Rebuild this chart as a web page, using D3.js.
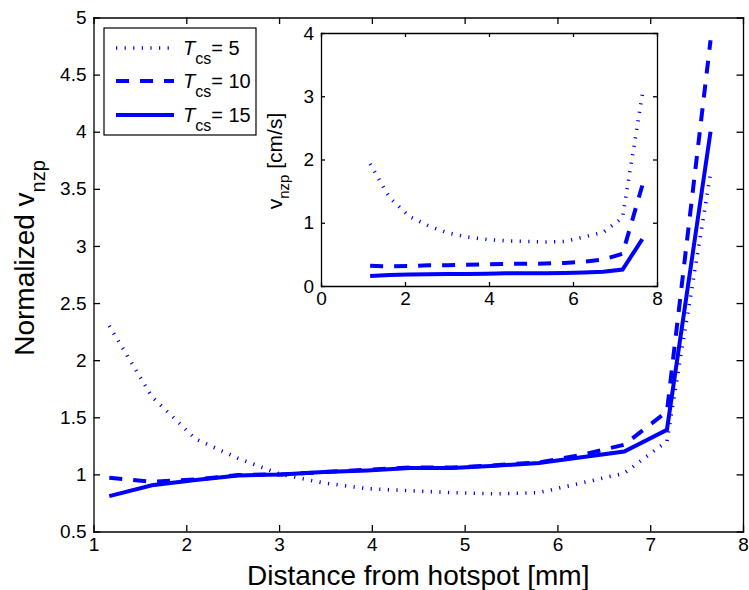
<!DOCTYPE html>
<meta charset="utf-8">
<title>Normalized v_nzp vs distance from hotspot</title>
<style>
  body {
    margin: 0;
    background: #fff;
  }

  svg {
    display: block;
    font-family: "Liberation Sans", Arial, sans-serif;
  }

  .axis path,
  .axis line {
    stroke: #000;
    stroke-width: 1.3;
  }

  .axis text {
    fill: #000;
  }

  .series {
    fill: none;
    stroke: #0000ff;
  }
</style>

<body>
  <script src="https://cdn.jsdelivr.net/npm/d3@7"></script>
  <script>
    // distance from hotspot [mm]
    var dist = [1.17, 1.63, 2.1, 2.56, 3.02, 3.48, 3.95, 4.41, 4.87, 5.33, 5.8, 6.26, 6.72, 7.18, 7.65];

    // normalized v_nzp (main plot)
    var norm5 = [2.30, 1.68, 1.31, 1.14, 1.0, 0.925, 0.875, 0.857, 0.84, 0.83, 0.84, 0.925, 1.01, 1.29, 3.63];
    var norm10 = [0.97, 0.935, 0.955, 0.995, 1.0, 1.02, 1.04, 1.06, 1.06, 1.08, 1.105, 1.17, 1.26, 1.55, 4.8];
    var norm15 = [0.81, 0.905, 0.95, 0.99, 1.0, 1.02, 1.035, 1.055, 1.055, 1.075, 1.10, 1.15, 1.20, 1.39, 4.0];

    // v_nzp [cm/s] (inset)
    var vel5 = [1.93, 1.40, 1.10, 0.95, 0.84, 0.775, 0.735, 0.715, 0.705, 0.695, 0.705, 0.775, 0.85, 1.08, 3.03];
    var vel10 = [0.32, 0.31, 0.315, 0.33, 0.33, 0.335, 0.345, 0.35, 0.35, 0.355, 0.365, 0.385, 0.42, 0.51, 1.59];
    var vel15 = [0.16, 0.175, 0.18, 0.185, 0.19, 0.19, 0.195, 0.2, 0.2, 0.2, 0.205, 0.215, 0.225, 0.26, 0.74];

    var tcsValues = ["5", "10", "15"];

    var mainXTicks = [1, 2, 3, 4, 5, 6, 7, 8];
    var mainYTicks = [0.5, 1, 1.5, 2, 2.5, 3, 3.5, 4, 4.5, 5];
    var insetXTicks = [0, 2, 4, 6, 8];
    var insetYTicks = [0, 1, 2, 3, 4];

    var width = 749,
      height = 590;

    // line styles, in the order of tcsValues
    var styles = [
      { width: 3.6, dash: "1.2,7.4" },
      { width: 4, dash: "13,11" },
      { width: 4, dash: null }
    ];

    var svg = d3.select("body").append("svg")
      .attr("width", width)
      .attr("height", height);

    function drawAxes(g, x, y, xTicks, yTicks, tickLen, fontSize) {
      var x0 = x.range()[0], x1 = x.range()[1];
      var y0 = y.range()[0], y1 = y.range()[1];

      g.append("g").attr("class", "axis")
        .attr("transform", "translate(0," + y0 + ")")
        .call(d3.axisBottom(x).tickValues(xTicks).tickFormat(d => d)
          .tickSizeInner(-tickLen).tickSizeOuter(0).tickPadding(6))
        .call(a => a.selectAll("text").style("font-size", fontSize + "px"));

      g.append("g").attr("class", "axis")
        .attr("transform", "translate(0," + y1 + ")")
        .call(d3.axisTop(x).tickValues(xTicks).tickFormat("")
          .tickSizeInner(-tickLen).tickSizeOuter(0));

      g.append("g").attr("class", "axis")
        .attr("transform", "translate(" + x0 + ",0)")
        .call(d3.axisLeft(y).tickValues(yTicks).tickFormat(d => d)
          .tickSizeInner(-tickLen).tickSizeOuter(0).tickPadding(7))
        .call(a => a.selectAll("text").style("font-size", fontSize + "px"));

      g.append("g").attr("class", "axis")
        .attr("transform", "translate(" + x1 + ",0)")
        .call(d3.axisRight(y).tickValues(yTicks).tickFormat("")
          .tickSizeInner(-tickLen).tickSizeOuter(0));

      g.selectAll(".axis .domain").attr("stroke-linecap", "square");
    }

    function drawSeries(g, x, y, seriesList) {
      var line = d3.line()
        .x((d, i) => x(dist[i]))
        .y(d => y(d));
      g.selectAll("path.series").data(seriesList)
        .enter().append("path")
        .attr("class", "series")
        .attr("d", d => line(d))
        .style("stroke-width", (d, i) => styles[i].width)
        .style("stroke-dasharray", (d, i) => styles[i].dash);
    }

    // ---- main axes ----
    var x = d3.scaleLinear().domain([1, 8]).range([93.5, 743]);
    var y = d3.scaleLinear().domain([0.5, 5]).range([531.5, 17.5]);

    var main = svg.append("g").attr("class", "main");
    drawSeries(main, x, y, [norm5, norm10, norm15]);
    drawAxes(main, x, y, mainXTicks, mainYTicks, 6.5, 19);

    main.append("text")
      .attr("x", (x.range()[0] + x.range()[1]) / 2)
      .attr("y", 585)
      .attr("text-anchor", "middle")
      .style("font-size", "28px")
      .text("Distance from hotspot [mm]");

    var ylab = main.append("text")
      .attr("transform", "translate(34,258) rotate(-90)")
      .attr("text-anchor", "middle")
      .style("font-size", "28px");
    ylab.append("tspan").text("Normalized v");
    ylab.append("tspan").attr("dy", 11).style("font-size", "20px").text("nzp");

    // ---- inset ----
    var xi = d3.scaleLinear().domain([0, 8]).range([321, 657]);
    var yi = d3.scaleLinear().domain([0, 4]).range([286, 33]);

    var inset = svg.append("g").attr("class", "inset");
    inset.append("rect")
      .attr("x", xi.range()[0]).attr("y", yi.range()[1])
      .attr("width", xi.range()[1] - xi.range()[0])
      .attr("height", yi.range()[0] - yi.range()[1])
      .attr("fill", "#fff");
    drawSeries(inset, xi, yi, [vel5, vel10, vel15]);
    drawAxes(inset, xi, yi, insetXTicks, insetYTicks, 4, 19);

    var ylabi = inset.append("text")
      .attr("transform", "translate(282,161) rotate(-90)")
      .attr("text-anchor", "middle")
      .style("font-size", "21px");
    ylabi.append("tspan").text("v");
    ylabi.append("tspan").attr("dy", 7).style("font-size", "15px").text("nzp");
    ylabi.append("tspan").attr("dy", -7).text(" [cm/s]");

    // ---- legend ----
    var legend = svg.append("g").attr("class", "legend");
    legend.append("rect")
      .attr("x", 104).attr("y", 28)
      .attr("width", 152).attr("height", 107)
      .attr("fill", "#fff")
      .attr("stroke", "#000")
      .attr("stroke-width", 1.2);

    var legendY = [48, 81, 115];
    tcsValues.forEach(function (v, i) {
      legend.append("line")
        .attr("class", "series")
        .attr("x1", 116).attr("x2", 174)
        .attr("y1", legendY[i]).attr("y2", legendY[i])
        .style("stroke-width", styles[i].width)
        .style("stroke-dasharray", styles[i].dash);
      var t = legend.append("text")
        .attr("x", 183)
        .attr("y", legendY[i] + 7)
        .style("font-size", "20px");
      t.append("tspan").style("font-style", "italic").text("T");
      t.append("tspan").attr("dy", 9).style("font-size", "16px").text("cs");
      t.append("tspan").attr("dy", -9).text("= " + v);
    });
  </script>
</body>
